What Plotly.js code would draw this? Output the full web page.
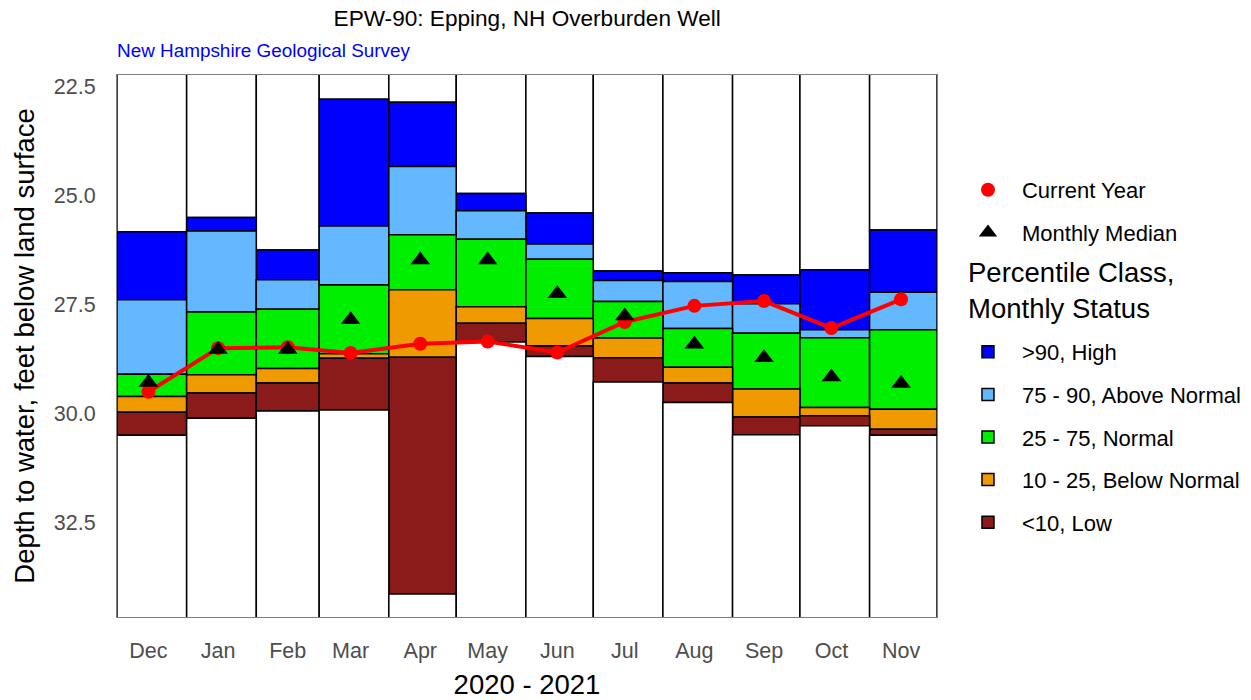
<!DOCTYPE html>
<html>
<head>
<meta charset="utf-8">
<script src="https://cdn.plot.ly/plotly-3.0.1.min.js"></script>
<style>html,body{margin:0;padding:0;background:#fff;}#chart{width:1251px;height:700px;}</style>
</head>
<body>
<div id="chart"></div>
<script>
// ---- data ----
const monthLabels = ['Dec','Jan','Feb','Mar','Apr','May','Jun','Jul','Aug','Sep','Oct','Nov'];
const monthStarts = ['2020-12-01','2021-01-01','2021-02-01','2021-03-01','2021-04-01','2021-05-01',
                     '2021-06-01','2021-07-01','2021-08-01','2021-09-01','2021-10-01','2021-11-01','2021-12-01'];
const midMonth = ['2020-12-15','2021-01-15','2021-02-15','2021-03-15','2021-04-15','2021-05-15',
                  '2021-06-15','2021-07-15','2021-08-15','2021-09-15','2021-10-15','2021-11-15'];
// depth to water (ft below land surface) at class boundaries
const levelMax = [25.83, 25.50, 26.25, 22.79, 22.86, 24.95, 25.40, 26.73, 26.77, 26.82, 26.70, 25.79];
const p90      = [27.39, 25.81, 26.93, 25.70, 24.33, 25.35, 26.11, 26.95, 26.97, 27.48, 28.08, 27.22];
const p75      = [29.10, 27.67, 27.61, 27.05, 25.90, 26.00, 26.46, 27.43, 28.05, 28.16, 28.26, 28.08];
const p25      = [29.61, 29.11, 28.97, 28.63, 27.16, 27.55, 27.82, 28.27, 28.94, 29.44, 29.86, 29.90];
const p10      = [29.97, 29.53, 29.30, 28.73, 28.71, 27.93, 28.45, 28.72, 29.30, 30.08, 30.05, 30.36];
const levelMin = [30.50, 30.11, 29.94, 29.92, 34.14, 28.36, 28.69, 29.28, 29.75, 30.49, 30.28, 30.50];
const monthlyMedian = [29.29, 28.53, 28.53, 27.85, 26.48, 26.48, 27.25, 27.76, 28.41, 28.72, 29.16, 29.31];
const currentYear   = [29.50, 28.50, 28.48, 28.61, 28.40, 28.35, 28.60, 27.90, 27.53, 27.42, 28.04, 27.38];
const yTicks = [22.5, 25.0, 27.5, 30.0, 32.5];

// ---- styling ----
const FONT = 'Liberation Sans, Arial, sans-serif';
const yRange = [34.67, 22.232];
const starts = monthStarts.slice(0, 12);
const widths = starts.map((d, i) => new Date(monthStarts[i + 1]) - new Date(d));
const edge = {color: '#000000', width: 1.5};

function band(name, top, bottom, color, legend) {
  return {
    type: 'bar', name: name, x: starts, base: top,
    y: top.map((t, i) => bottom[i] - t),
    offset: 0, width: widths,
    marker: {color: color, line: edge},
    showlegend: legend, legend: 'legend2', legendgroup: name,
    hoverinfo: 'skip'
  };
}

const traces = [
  band('whiteTop', levelMax.map(() => yRange[1] - 1), levelMax, '#FFFFFF', false),
  band('&gt;90, High', levelMax, p90, '#0000FF', true),
  band('75 - 90, Above Normal', p90, p75, '#63B8FF', true),
  band('25 - 75, Normal', p75, p25, '#00EE00', true),
  band('10 - 25, Below Normal', p25, p10, '#EE9A00', true),
  band('&lt;10, Low', p10, levelMin, '#8B1A1A', true),
  band('whiteBottom', levelMin, levelMin.map(() => yRange[0] + 1), '#FFFFFF', false),
  {type: 'scatter', mode: 'lines', x: midMonth, y: currentYear,
   line: {color: '#FF0000', width: 4}, showlegend: false, hoverinfo: 'skip'},
  {type: 'scatter', mode: 'markers', name: 'Current Year', x: midMonth, y: currentYear,
   marker: {color: '#FF0000', size: 14, symbol: 'circle'}, legend: 'legend', legendgroup: 'cy', hoverinfo: 'skip'},
  {type: 'scatter', mode: 'markers', name: 'Monthly Median', x: midMonth, y: monthlyMedian,
   marker: {color: '#000000', size: 17, symbol: 'triangle-up'}, legend: 'legend', legendgroup: 'mm', hoverinfo: 'skip'}
];

const layout = {
  width: 1251, height: 700,
  paper_bgcolor: '#FFFFFF', plot_bgcolor: '#FFFFFF',
  font: {family: FONT, color: '#000000'},
  margin: {l: 117, r: 314, t: 75, b: 83, autoexpand: false},
  barmode: 'overlay',
  hovermode: false,
  title: {text: 'EPW-90: Epping, NH Overburden Well', font: {size: 22.6, color: '#000000'},
          x: 0.4214, xanchor: 'center', y: 0.974, yanchor: 'middle', yref: 'container'},
  xaxis: {
    type: 'date', range: [monthStarts[0], monthStarts[12]],
    tickvals: midMonth, ticktext: monthLabels, ticks: '',
    tickfont: {size: 21.5, color: '#4D4D4D'}, ticklabelstandoff: 14,
    showgrid: false, zeroline: false,
    showline: true, mirror: true, linecolor: '#7F7F7F', linewidth: 1,
    title: {text: '2020 - 2021', font: {size: 27.5, color: '#000000'}, standoff: 12}
  },
  yaxis: {
    range: yRange, tickvals: yTicks, tickformat: '.1f', ticks: '',
    tickfont: {size: 21.5, color: '#4D4D4D'}, ticklabelstandoff: 16,
    showgrid: false, zeroline: false,
    showline: true, mirror: true, linecolor: '#7F7F7F', linewidth: 1,
    title: {text: 'Depth to water, feet below land surface', font: {size: 27.5, color: '#000000'}, standoff: 11}
  },
  annotations: [{
    text: 'New Hampshire Geological Survey', xref: 'paper', yref: 'paper',
    x: 0, xanchor: 'left', xshift: -2, y: 1.046, yanchor: 'middle', showarrow: false,
    font: {size: 18.9, color: '#0000FF'}
  }, {
    text: 'Percentile Class,<br>Monthly Status', xref: 'paper', yref: 'paper',
    x: 1.0354, xanchor: 'left', y: 0.6015, yanchor: 'middle', align: 'left', showarrow: false,
    font: {size: 27.5, color: '#000000'}
  }],
  legend: {
    x: 1.0207, xanchor: 'left', y: 0.8266, yanchor: 'top',
    font: {size: 22, color: '#000000'}, bgcolor: 'rgba(0,0,0,0)', itemwidth: 58,
    tracegroupgap: 11, traceorder: 'grouped', itemclick: false
  },
  legend2: {
    x: 1.0207, xanchor: 'left', y: 0.5277, yanchor: 'top',
    font: {size: 22, color: '#000000'}, bgcolor: 'rgba(0,0,0,0)', itemwidth: 58,
    tracegroupgap: 11, traceorder: 'grouped', itemclick: false
  }
};

Plotly.newPlot('chart', traces, layout, {displayModeBar: false, staticPlot: true});
</script>
</body>
</html>
